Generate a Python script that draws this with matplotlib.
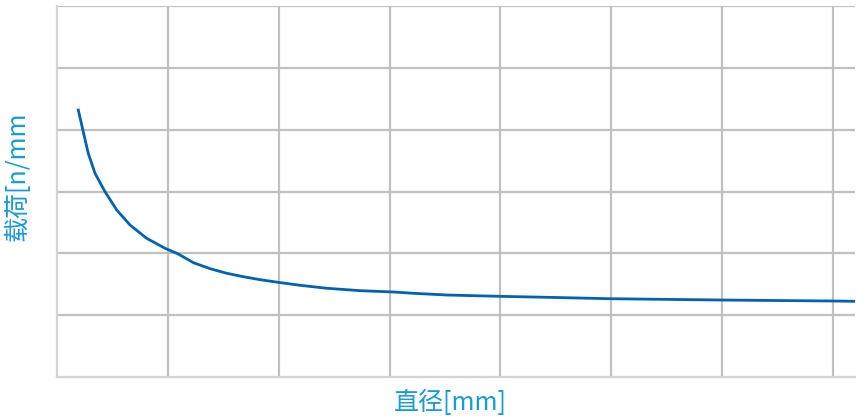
import numpy as np
import matplotlib.pyplot as plt

# curve values (grid units)
diameter = [0.192, 0.237, 0.282, 0.343, 0.433, 0.539, 0.659, 0.809, 0.975, 1.095,
            1.230, 1.381, 1.532, 1.681, 1.832, 1.992, 2.193, 2.434, 2.735, 3.035,
            3.213, 3.517, 3.989, 4.420, 4.991, 5.993, 6.995, 7.202]
load = [4.318, 3.967, 3.618, 3.294, 2.997, 2.701, 2.458, 2.243, 2.081, 1.989,
        1.849, 1.752, 1.677, 1.622, 1.574, 1.532, 1.483, 1.435, 1.396, 1.375,
        1.354, 1.326, 1.305, 1.289, 1.266, 1.245, 1.229, 1.224]

x_grid = [1, 2, 3, 4, 5, 6, 7]
y_grid = [1, 2, 3, 4, 5, 6]

plt.rcParams['font.family'] = ['Noto Sans CJK SC', 'DejaVu Sans']

fig = plt.figure(figsize=(8.58, 4.2), dpi=100)
ax = fig.add_axes([57 / 858, 43 / 420, 798 / 858, 371 / 420])

ax.plot(diameter, load, color='#0062b1', linewidth=2)

ax.set_xlim(0, 7.2)
ax.set_ylim(0, 6)
ax.set_xticks(x_grid)
ax.set_yticks(y_grid)
ax.tick_params(length=0, labelleft=False, labelbottom=False)
ax.grid(True, color='#c0c0c0', linewidth=1.6)

for side in ['top', 'right']:
    ax.spines[side].set_visible(False)
ax.spines['left'].set_color('#d4d4d4')
ax.spines['bottom'].set_color('#d4d4d4')
ax.spines['left'].set_linewidth(1.6)
ax.spines['bottom'].set_linewidth(1.6)

fig.text(450 / 858, 1 - 403 / 420, '直径[mm]', color='#1a9ad6', fontsize=18,
         ha='center', va='center')
fig.text(18 / 858, 1 - 176 / 420, '载荷[n/mm', color='#1a9ad6', fontsize=18,
         ha='center', va='center', rotation=90)

fig.savefig('out.png', dpi=100)
